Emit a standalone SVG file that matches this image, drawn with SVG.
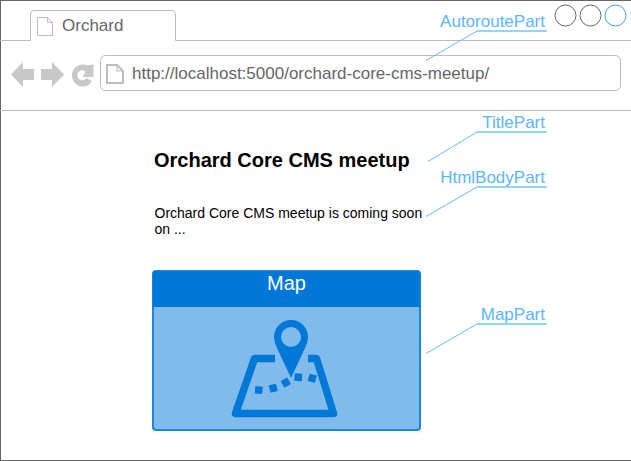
<svg xmlns="http://www.w3.org/2000/svg" width="631" height="461" viewBox="0 0 631 461">
<style>
text{font-family:"Liberation Sans",Arial,sans-serif}
.g{stroke:#bdbdbd;fill:none}
.ic{fill:#c8c8c8}
.lab{fill:#5cb5ff;font-size:17px;text-anchor:end}
.bar{stroke:#99d1ff;stroke-width:2;fill:none}
.ln{stroke:#66b8ff;stroke-width:1;fill:none}
.doc{fill:#fff;stroke:#bdbdbd;stroke-width:1}
.blue{fill:#0078d7}
</style>
<rect width="631" height="461" fill="#fff"/>
<g id="window">
<rect x="0.5" y="0.5" width="631" height="460" fill="#fff" stroke="#666"/>
<path class="g" d="M0 40.5H30.500V14Q30.500 10.500 34 10.500H172Q175.500 10.500 175.500 14V40.500H631"/>
<path class="g" d="M0 110.500H631"/>
<path class="doc" d="M37.500 17.500H47.500L52.500 22.500V35.500H37.500Z"/>
<path class="g" d="M47.500 17.500V22.500H52.500"/>
<text x="62" y="31" font-size="17" fill="#666">Orchard</text>
<circle cx="565.500" cy="15.500" r="10.500" fill="#fff" stroke="#666"/>
<circle cx="590.500" cy="15.500" r="10.500" fill="#fff" stroke="#666"/>
<circle cx="615.500" cy="15.500" r="10.500" fill="#fff" stroke="#3b9dff"/>
</g>
<g id="toolbar">
<path class="ic" d="M11 74.500L23 62V69H34V80H23V87Z"/>
<path class="ic" d="M64 74.500L52 62V69H41V80H52V87Z"/>
<path class="ic" d="M87.500 65.500L93.500 64.500V77H83L85.500 71.500A5 5 0 1 0 86.500 78L92 81.500A11 11 0 1 1 87.500 65.500Z"/>
<rect x="100.500" y="55.500" width="520" height="35" rx="5" fill="#fff" stroke="#bdbdbd"/>
<path d="M107 65H117L123 71V83H107Z" fill="#fff" stroke="#bdbdbd" stroke-width="2"/>
<path class="g" d="M117 65V71H123"/>
<text x="132" y="79" font-size="17" fill="#666">http://localhost:5000/orchard-core-cms-meetup/</text>
</g>
<g id="title-part">
<text x="154" y="167" font-size="20" font-weight="700" fill="#000">Orchard Core CMS meetup</text>
</g>
<g id="html-body-part">
<text x="154.500" y="218" font-size="14" fill="#000">Orchard Core CMS meetup is coming soon</text>
<text x="154.500" y="234" font-size="14" fill="#000">on ...</text>
</g>
<g id="map-part">
<rect x="153" y="271" width="267" height="159" rx="3" fill="#80bbeb" stroke="#1a86dc" stroke-width="2"/>
<path class="blue" d="M153 274Q153 271 156 271H417Q420 271 420 274V307H153Z"/>
<text x="286.500" y="290" font-size="20" fill="#fff" text-anchor="middle">Map</text>
<path d="M275 358.500H254.500L235.500 413.500H333.500L316.500 358.500H308" fill="none" stroke="#0078d7" stroke-width="7.500" stroke-linejoin="round"/>
<path class="blue" fill-rule="evenodd" d="M291 320A17 17 0 0 1 308 337Q308 342 305 348L291 378L277 348Q274 342 274 337A17 17 0 0 1 291 320ZM291 327A10 10 0 1 0 291 347A10 10 0 1 0 291 327Z"/>
<rect class="blue" x="255" y="386.300" width="7.500" height="7.500" transform="rotate(5 258.700 390)"/>
<rect class="blue" x="269.500" y="384.500" width="7.500" height="7.500" transform="rotate(-15 273.300 388.300)"/>
<rect class="blue" x="282" y="379" width="7.500" height="7.500" transform="rotate(-30 285.700 382.700)"/>
<rect class="blue" x="294.500" y="373.500" width="7.500" height="7.500" transform="rotate(5 298.300 377.300)"/>
<rect class="blue" x="308.500" y="374.500" width="7.500" height="7.500" transform="rotate(15 312.300 378.300)"/>
</g>
<g id="connectors">
<path class="ln" d="M426 60.500L477 31"/>
<path class="bar" d="M477 31H547"/>
<path class="ln" d="M428 161.500L477 132"/>
<path class="bar" d="M477 132H547"/>
<path class="ln" d="M426 216.500L477 187"/>
<path class="bar" d="M477 187H547"/>
<path class="ln" d="M426 353.500L477 324"/>
<path class="bar" d="M477 324H547"/>
</g>
<g id="labels">
<text class="lab" x="545" y="27">AutoroutePart</text>
<text class="lab" x="545" y="128">TitlePart</text>
<text class="lab" x="545" y="183">HtmlBodyPart</text>
<text class="lab" x="545" y="320">MapPart</text>
</g>
</svg>
